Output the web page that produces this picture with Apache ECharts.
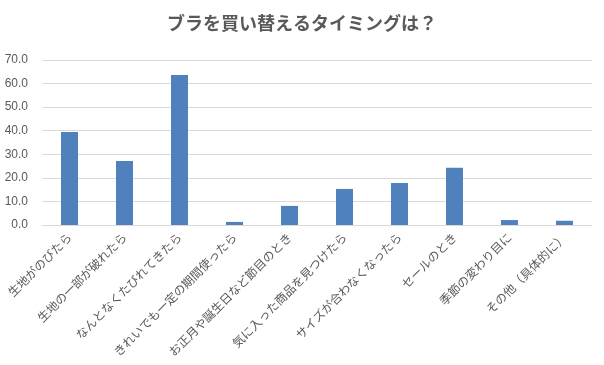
<!DOCTYPE html>
<html><head><meta charset="utf-8">
<script src="https://cdn.jsdelivr.net/npm/echarts@6/dist/echarts.min.js"></script>
<style>html,body{margin:0;padding:0;background:#fff}#c{width:604px;height:365px}</style>
</head><body><div id="c"></div>
<script>
const title = 'ブラを買い替えるタイミングは？';
const categories = ['生地がのびたら','生地の一部が破れたら','なんとなくたびれてきたら','きれいでも一定の期間使ったら','お正月や誕生日など節目のとき','気に入った商品を見つけたら','サイズが合わなくなったら','セールのとき','季節の変わり目に','その他（具体的に）'];
const values = [39.5, 27.2, 63.6, 1.3, 8.1, 15.3, 17.8, 24.3, 2.1, 1.8];
const yTicks = {min: 0, max: 70, interval: 10};

const chart = echarts.init(document.getElementById('c'), null, {renderer: 'canvas'});
chart.setOption({
  animation: false,
  textStyle: {fontFamily: '"Noto Sans CJK JP", sans-serif'},
  title: {
    text: title, left: 'center', top: 9,
    textStyle: {fontSize: 18, fontWeight: 'bold', color: '#595959', fontFamily: '"Noto Sans CJK JP", sans-serif'}
  },
  grid: {left: 42, right: 12, top: 60, bottom: 140, containLabel: false},
  xAxis: {
    type: 'category', data: categories,
    axisLine: {lineStyle: {color: '#d9d9d9'}},
    axisTick: {show: false},
    axisLabel: {rotate: 45, interval: 0, margin: 10, fontSize: 12, color: '#595959', fontFamily: '"Noto Sans CJK JP", sans-serif'}
  },
  yAxis: {
    type: 'value', min: yTicks.min, max: yTicks.max, interval: yTicks.interval,
    axisLine: {show: false}, axisTick: {show: false},
    splitLine: {lineStyle: {color: '#d9d9d9'}},
    axisLabel: {formatter: v => v.toFixed(1), fontSize: 12, color: '#595959', margin: 14, fontFamily: '"Liberation Sans", sans-serif'}
  },
  series: [{type: 'bar', data: values, barWidth: 17, itemStyle: {color: '#4f81bd'}}]
});
</script></body></html>
